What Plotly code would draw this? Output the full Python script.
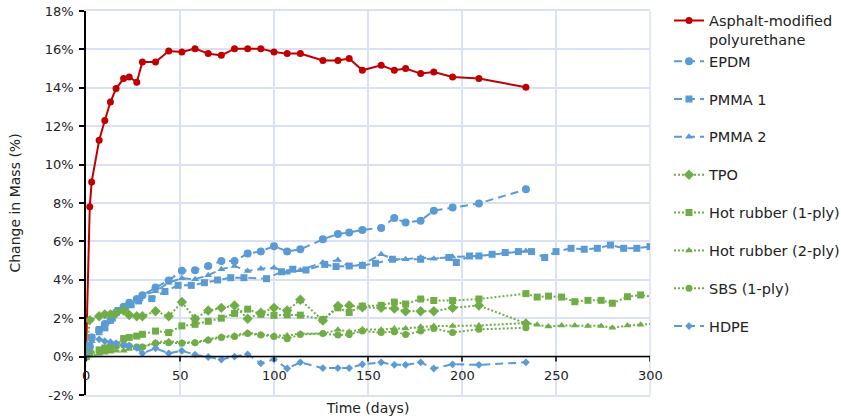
import plotly.graph_objects as go

# ---------------- data (percent) ----------------
apu_days = [0, 2, 3, 7, 10, 13, 16, 20, 23, 27, 30, 37, 44, 51, 58, 65, 72, 79, 86, 93, 100,
            107, 114, 126, 134, 140, 147, 157, 164, 170, 178, 185, 195, 209, 234]
apu_vals = [0, 7.8, 9.1, 11.27, 12.3, 13.26, 13.96, 14.48, 14.56, 14.29, 15.34, 15.34, 15.92,
            15.87, 16.04, 15.78, 15.69, 16.04, 16.04, 16.04, 15.87, 15.78, 15.78, 15.42, 15.42,
            15.52, 14.91, 15.17, 14.91, 15.0, 14.74, 14.82, 14.56, 14.48, 14.03]

epdm_days = [0, 2, 3, 7, 10, 13, 16, 20, 23, 27, 30, 37, 44, 51, 58, 65, 72, 79, 86, 93, 100,
             107, 114, 126, 134, 140, 147, 157, 164, 170, 178, 185, 195, 209, 234]
epdm_vals = [0, 0.5, 1.0, 1.4, 1.7, 1.9, 2.3, 2.6, 2.8, 3.0, 3.2, 3.6, 3.97, 4.47, 4.5, 4.72,
             4.98, 4.98, 5.37, 5.48, 5.75, 5.48, 5.59, 6.11, 6.39, 6.46, 6.6, 6.7, 7.22, 6.98,
             7.08, 7.6, 7.76, 7.98, 8.71]

pmma1_days = [0, 2, 3, 7, 10, 14, 17, 21, 24, 28, 35, 42, 49, 56, 63, 70, 77, 84, 96, 104,
              110, 117, 127, 133, 140, 147, 154, 163, 178, 193, 197, 204, 209, 216, 223, 230,
              237, 244, 250, 258, 265, 272, 279, 286, 293, 300]
pmma1_vals = [0, 0.6, 1.0, 1.4, 1.5, 2.0, 2.4, 2.6, 2.7, 2.9, 3.02, 3.39, 3.71, 3.71, 3.85,
              3.99, 4.11, 4.11, 4.06, 4.42, 4.55, 4.51, 4.8, 4.69, 4.72, 4.75, 4.86, 5.07, 5.07,
              5.16, 4.9, 5.24, 5.24, 5.33, 5.42, 5.47, 5.47, 5.16, 5.47, 5.64, 5.59, 5.64, 5.81,
              5.64, 5.64, 5.73]

pmma2_days = [0, 2, 3, 7, 10, 13, 16, 20, 23, 27, 30, 37, 44, 51, 58, 65, 72, 79, 86, 93, 100,
              107, 114, 126, 134, 140, 147, 157, 164, 170, 178, 185, 195, 209, 234]
pmma2_vals = [0, 0.4, 0.8, 1.2, 1.5, 1.8, 2.2, 2.5, 2.8, 3.0, 3.2, 3.4, 3.85, 4.08, 4.03, 4.24,
              4.55, 4.72, 4.46, 4.58, 4.63, 4.37, 4.5, 4.9, 5.03, 4.69, 4.8, 5.33, 5.07, 5.07,
              5.16, 5.1, 5.2, 5.24, 5.5]

tpo_days = [0, 2, 7, 10, 13, 16, 20, 23, 27, 30, 37, 44, 51, 58, 65, 72, 79, 86, 93, 100, 107,
            114, 126, 134, 140, 147, 157, 164, 170, 178, 185, 195, 209, 234]
tpo_vals = [0, 1.9, 2.1, 2.2, 2.2, 2.26, 2.4, 2.17, 2.1, 2.1, 2.36, 2.1, 2.84, 1.97, 2.4, 2.54,
            2.66, 1.97, 2.29, 2.54, 2.4, 2.96, 1.88, 2.64, 2.66, 2.57, 2.54, 2.5, 2.36, 2.36,
            2.36, 2.54, 2.66, 1.73]

hr1_days = [0, 2, 7, 10, 13, 16, 20, 23, 27, 30, 37, 44, 51, 58, 65, 72, 79, 86, 93, 100, 107,
            114, 126, 134, 140, 147, 157, 164, 170, 178, 185, 195, 209, 234, 240, 246, 253, 260,
            267, 274, 280, 288, 295, 302]
hr1_vals = [0, 0.2, 0.35, 0.45, 0.5, 0.6, 0.94, 1.0, 1.07, 1.16, 1.33, 1.25, 1.6, 1.68, 1.84,
            2.0, 2.25, 2.47, 2.2, 2.15, 2.17, 2.16, 1.93, 2.54, 2.3, 2.63, 2.67, 2.84, 2.74, 3.0,
            2.92, 2.92, 3.0, 3.28, 3.1, 3.15, 3.1, 2.86, 2.93, 2.93, 2.78, 3.12, 3.21, 3.1]

hr2_days = [0, 2, 7, 10, 13, 16, 20, 23, 27, 30, 37, 44, 51, 58, 65, 72, 79, 86, 93, 100, 107,
            114, 126, 134, 140, 147, 157, 164, 170, 178, 185, 195, 209, 234, 240, 246, 253, 260,
            267, 274, 280, 288, 295, 302]
hr2_vals = [0, 0.05, 0.15, 0.2, 0.25, 0.3, 0.3, 0.4, 0.45, 0.5, 0.75, 0.8, 0.75, 0.75, 0.9,
            1.05, 1.1, 1.25, 1.15, 1.1, 1.1, 1.2, 1.2, 1.4, 1.3, 1.42, 1.4, 1.47, 1.47, 1.56,
            1.6, 1.6, 1.62, 1.75, 1.66, 1.57, 1.62, 1.62, 1.6, 1.6, 1.5, 1.62, 1.66, 1.72]

sbs_days = [0, 2, 7, 10, 13, 16, 20, 23, 27, 30, 37, 44, 51, 58, 65, 72, 79, 86, 93, 100, 107,
            114, 126, 134, 140, 147, 157, 164, 170, 178, 185, 195, 209, 234]
sbs_vals = [0, 0.15, 0.3, 0.35, 0.4, 0.55, 0.6, 0.55, 0.5, 0.5, 0.7, 0.72, 0.7, 0.72, 0.85,
            1.0, 1.05, 1.2, 1.12, 1.05, 0.93, 1.15, 1.2, 1.12, 1.15, 1.33, 1.25, 1.3, 1.15,
            1.33, 1.47, 1.25, 1.42, 1.5]

hdpe_days = [0, 2, 3, 7, 10, 13, 16, 20, 23, 27, 30, 37, 44, 51, 58, 65, 72, 79, 86, 93, 100,
             107, 114, 126, 134, 140, 147, 157, 164, 170, 178, 185, 195, 209, 234]
hdpe_vals = [0, 0.5, 1.0, 0.9, 0.8, 0.75, 0.7, 0.6, 0.57, 0.45, 0.17, 0.43, 0.17, 0.3, 0.1,
             -0.02, -0.15, 0.0, 0.12, -0.35, -0.14, -0.62, -0.3, -0.6, -0.6, -0.6, -0.4, -0.3,
             -0.43, -0.43, -0.3, -0.62, -0.4, -0.43, -0.3]

x_ticks = [0, 50, 100, 150, 200, 250, 300]
y_ticks = [-2, 0, 2, 4, 6, 8, 10, 12, 14, 16, 18]
y_ticktext = ["-2%", "0%", "2%", "4%", "6%", "8%", "10%", "12%", "14%", "16%", "18%"]

# ---------------- styles ----------------
RED = "#C00000"
BLUE = "#5B9BD5"
GREEN = "#70AD47"
GRID = "#D9E1F2"
FONT = "DejaVu Sans"
TXT = "#222222"
DASH = "8px,5px"
DOT = "2px,2px"

series = [
    ("Asphalt-modified<br>polyurethane", apu_days, apu_vals, RED, "solid", "circle", 7, "g0"),
    ("EPDM", epdm_days, epdm_vals, BLUE, DASH, "circle", 8, "g0"),
    ("PMMA 1", pmma1_days, pmma1_vals, BLUE, DASH, "square", 7, "g2"),
    ("PMMA 2", pmma2_days, pmma2_vals, BLUE, DASH, "triangle-up", 7, "g3"),
    ("TPO", tpo_days, tpo_vals, GREEN, DOT, "diamond", 8, "g4"),
    ("Hot rubber (1-ply)", hr1_days, hr1_vals, GREEN, DOT, "square", 7, "g5"),
    ("Hot rubber (2-ply)", hr2_days, hr2_vals, GREEN, DOT, "triangle-up", 7, "g6"),
    ("SBS (1-ply)", sbs_days, sbs_vals, GREEN, DOT, "circle", 7, "g7"),
    ("HDPE", hdpe_days, hdpe_vals, BLUE, DASH, "diamond", 6, "g8"),
]

fig = go.Figure()
for name, xs, ys, col, dash, sym, sz, grp in series:
    fig.add_trace(go.Scatter(
        x=xs, y=ys, name=name, mode="lines+markers",
        line=dict(color=col, width=2, dash=dash),
        marker=dict(color=col, symbol=sym, size=sz),
        legendgroup=grp, cliponaxis=True,
    ))

# x-axis line at 0% with ticks and labels beneath it
fig.add_shape(type="line", xref="x", yref="y", x0=0, x1=300, y0=0, y1=0,
              line=dict(color="black", width=1.5), layer="above")
for t in x_ticks:
    fig.add_shape(type="line", xref="x", yref="y", ysizemode="pixel", yanchor=0,
                  x0=t, x1=t, y0=0, y1=-5, line=dict(color="black", width=1.5))
    fig.add_annotation(x=t, y=0, xref="x", yref="y", text=str(t), showarrow=False,
                       yanchor="top", yshift=-9, font=dict(family=FONT, size=13, color=TXT))

fig.update_layout(
    width=841, height=418,
    margin=dict(l=86, r=191, t=11, b=23, autoexpand=False),
    paper_bgcolor="white", plot_bgcolor="white",
    font=dict(family=FONT, size=13, color=TXT),
    xaxis=dict(range=[0, 300], tickvals=x_ticks, showticklabels=False, automargin=False,
               showgrid=True, gridcolor=GRID, gridwidth=1.5, zeroline=False,
               showline=True, linecolor=GRID, linewidth=1.5, mirror=True,
               title=dict(text="Time (days)", standoff=7, font=dict(family=FONT, size=14))),
    yaxis=dict(range=[-2, 18], tickvals=y_ticks, ticktext=y_ticktext, automargin=False,
               tickfont=dict(family=FONT, size=13), ticklabelstandoff=3,
               showgrid=True, gridcolor=GRID, gridwidth=1.5, zeroline=False,
               showline=True, linecolor="black", linewidth=1.5,
               ticks="outside", ticklen=5, tickcolor="black", tickwidth=1.5,
               title=dict(text="Change in Mass (%)", standoff=21, font=dict(family=FONT, size=14))),
    legend=dict(xref="container", yref="container", x=669 / 841, xanchor="left",
                y=1 - 4.5 / 418, yanchor="top", valign="top", maxheight=410,
                tracegroupgap=16, font=dict(family=FONT, size=14.5, color=TXT),
                bgcolor="rgba(0,0,0,0)"),
    showlegend=True,
)
fig.add_shape(type="line", xref="paper", yref="paper", x0=1, x1=1, y0=0, y1=1,
              line=dict(color=GRID, width=1.5), layer="below")

fig.write_html("out.html")
